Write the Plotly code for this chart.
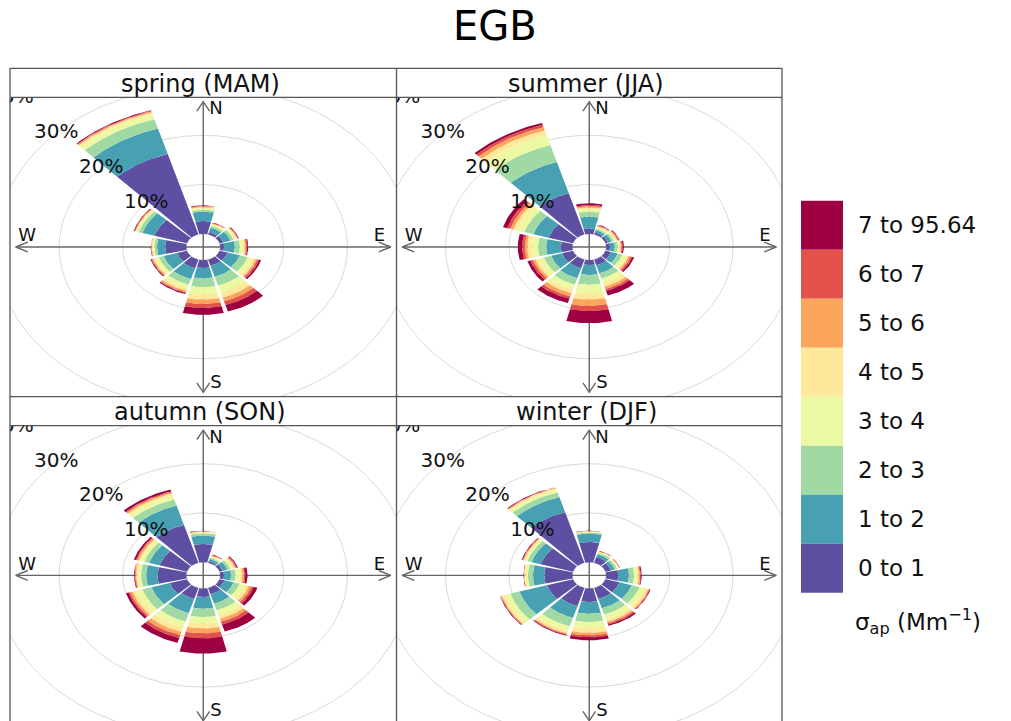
import numpy as np
import plotly.graph_objects as go

# Wind sectors (degrees clockwise from north), 30-degree bins
directions = [0, 30, 60, 90, 120, 150, 180, 210, 240, 270, 300, 330]

# sigma_ap classes (Mm-1) and their colours (reversed Spectral ramp)
bin_labels = ["0 to 1", "1 to 2", "2 to 3", "3 to 4", "4 to 5", "5 to 6", "6 to 7", "7 to 95.64"]
bin_colors = ["#5E4FA2", "#48A1B3", "#A1D9A4", "#EDF8A3", "#FEE99A", "#FCA55D", "#E2524A", "#9E0142"]

season_titles = ["spring (MAM)", "summer (JJA)", "autumn (SON)", "winter (DJF)"]

# Cumulative frequency (%) at the top of each sigma_ap class, one row per sector
spring = [
    [2.6, 4.5, 4.9, 5.2, 5.4, 5.55, 5.7, 5.8],
    [0.5, 1.4, 1.8, 2.1, 2.25, 2.35, 2.45, 2.5],
    [0.6, 1.8, 2.3, 2.7, 2.9, 3.0, 3.1, 3.2],
    [0.6, 2.3, 3.1, 3.6, 3.9, 4.1, 4.25, 4.4],
    [1.3, 3.3, 4.6, 5.4, 5.9, 6.2, 6.5, 6.8],
    [1.3, 3.6, 5.5, 6.8, 8.0, 8.8, 9.6, 11.0],
    [1.6, 3.7, 5.5, 7.0, 8.0, 8.9, 9.7, 11.1],
    [1.8, 4.1, 5.3, 6.1, 6.6, 6.9, 7.1, 7.3],
    [1.6, 3.8, 4.6, 5.2, 5.5, 5.7, 5.85, 6.0],
    [3.3, 4.6, 5.0, 5.25, 5.4, 5.5, 5.55, 5.6],
    [5.3, 7.3, 7.9, 8.3, 8.45, 8.55, 8.65, 8.75],
    [17.0, 22.4, 24.4, 25.4, 25.8, 26.0, 26.15, 26.3],
]
summer = [
    [1.1, 3.5, 4.5, 5.0, 5.35, 5.6, 5.85, 6.2],
    [0.4, 0.9, 1.2, 1.5, 1.7, 1.85, 2.0, 2.1],
    [0.4, 1.0, 1.4, 1.7, 1.9, 2.05, 2.2, 2.3],
    [0.6, 1.3, 1.8, 2.1, 2.3, 2.45, 2.6, 2.8],
    [0.9, 2.0, 2.8, 3.4, 3.8, 4.1, 4.4, 4.7],
    [1.2, 2.9, 4.0, 5.0, 5.7, 6.2, 6.6, 7.6],
    [1.0, 3.0, 5.0, 6.7, 8.0, 9.3, 10.3, 12.8],
    [1.8, 3.9, 5.3, 6.3, 7.1, 7.8, 8.3, 9.2],
    [1.8, 3.6, 4.8, 5.7, 6.2, 6.6, 7.0, 7.5],
    [1.8, 4.1, 5.4, 6.5, 7.1, 7.5, 7.9, 8.6],
    [4.0, 6.5, 8.0, 9.2, 9.8, 10.3, 10.8, 11.5],
    [8.7, 15.3, 18.9, 21.0, 22.0, 22.7, 23.2, 23.6],
]
autumn = [
    [3.7, 5.4, 5.85, 6.1, 6.2, 6.28, 6.34, 6.4],
    [0.3, 0.8, 1.1, 1.35, 1.5, 1.6, 1.7, 1.8],
    [0.5, 1.3, 1.8, 2.2, 2.5, 2.7, 2.85, 3.0],
    [0.6, 1.7, 2.4, 3.1, 3.5, 3.75, 3.95, 4.3],
    [0.8, 2.3, 3.3, 4.2, 4.8, 5.2, 5.6, 6.2],
    [1.3, 3.3, 4.7, 5.8, 6.5, 7.1, 7.7, 9.2],
    [1.7, 4.1, 5.8, 7.1, 8.1, 9.1, 10.1, 13.2],
    [2.3, 5.3, 7.1, 8.3, 9.3, 10.0, 10.6, 11.6],
    [2.8, 5.8, 7.3, 8.3, 8.9, 9.3, 9.6, 10.0],
    [4.5, 6.3, 7.1, 7.6, 7.85, 8.0, 8.1, 8.2],
    [4.5, 6.2, 7.0, 7.6, 7.9, 8.2, 8.4, 8.7],
    [8.0, 12.1, 13.4, 14.2, 14.6, 14.9, 15.1, 15.5],
]
winter = [
    [4.1, 5.8, 6.05, 6.2, 6.28, 6.33, 6.37, 6.4],
    [1.2, 1.8, 2.1, 2.3, 2.4, 2.45, 2.5, 2.55],
    [0.9, 1.5, 1.9, 2.15, 2.25, 2.3, 2.35, 2.4],
    [1.9, 3.6, 4.4, 4.9, 5.15, 5.35, 5.45, 5.6],
    [2.3, 4.3, 5.6, 6.5, 7.0, 7.2, 7.3, 7.4],
    [2.3, 4.3, 5.6, 6.6, 7.1, 7.4, 7.7, 8.0],
    [2.7, 5.1, 6.8, 8.1, 9.0, 9.5, 9.9, 10.5],
    [3.8, 6.3, 8.1, 9.1, 9.6, 9.8, 9.95, 10.1],
    [4.3, 8.8, 10.3, 11.3, 11.7, 11.85, 11.95, 12.05],
    [4.4, 6.2, 7.0, 7.4, 7.55, 7.62, 7.67, 7.7],
    [5.3, 6.8, 7.5, 7.9, 8.1, 8.25, 8.35, 8.45],
    [10.7, 13.9, 14.9, 15.5, 15.75, 15.9, 16.0, 16.1],
]
seasons = [spring, summer, autumn, winter]

# Grid rings every 10 %
ring_values = [0, 10, 20, 30, 40]

# ---- geometry / styling constants ----
W, H = 1011, 721
FONT = "DejaVu Sans"
HOLE = 2.68          # radius of the empty centre, in % units
LIM = 30.4           # half-range of each panel's axes
ARROW = 29.5         # extent of the compass arrows
HALF_SECTOR = 13.5   # half angular width of a wedge (deg)
LABEL_ANGLE = 315    # direction along which ring labels sit

COL_X = [10, 396.5, 782]          # panel column edges (px)
ROW_TOP = [68.3, 396.7]           # strip tops (px)
STRIP_H = 29.0
PANEL_H = 299.4


def fx(px):
    return px / W


def fy(py):
    return 1 - py / H


def wedge(wd, r0, r1, n=30):
    th = np.radians(np.linspace(wd - HALF_SECTOR, wd + HALF_SECTOR, n))
    xs = np.concatenate([r0 * np.sin(th), (r1 * np.sin(th))[::-1], [r0 * np.sin(th[0])]])
    ys = np.concatenate([r0 * np.cos(th), (r1 * np.cos(th))[::-1], [r0 * np.cos(th[0])]])
    return xs, ys


fig = go.Figure()
layout_axes = {}

for p, (table, title) in enumerate(zip(seasons, season_titles)):
    row, col = divmod(p, 2)
    xa = "x" if p == 0 else f"x{p + 1}"
    ya = "y" if p == 0 else f"y{p + 1}"
    xname = "xaxis" if p == 0 else f"xaxis{p + 1}"
    yname = "yaxis" if p == 0 else f"yaxis{p + 1}"

    plot_top = ROW_TOP[row] + STRIP_H
    plot_bot = plot_top + PANEL_H
    px_per_unit = PANEL_H / (2 * LIM)
    vis_bot = min(plot_bot, H)
    y_low = LIM - (vis_bot - plot_top) / px_per_unit

    layout_axes[xname] = dict(domain=[fx(COL_X[col]), fx(COL_X[col + 1])], range=[-LIM, LIM],
                              visible=False, anchor=ya, fixedrange=True)
    layout_axes[yname] = dict(domain=[fy(vis_bot), fy(plot_top)], range=[y_low, LIM],
                              visible=False, anchor=xa, fixedrange=True)

    # grid rings
    t = np.linspace(0, 2 * np.pi, 361)
    gx, gy = [], []
    for v in ring_values:
        r = v + HOLE
        gx += list(r * np.sin(t)) + [None]
        gy += list(r * np.cos(t)) + [None]
    fig.add_trace(go.Scatter(x=gx, y=gy, mode="lines", line=dict(color="#D9D9D9", width=1),
                             hoverinfo="skip", showlegend=False, xaxis=xa, yaxis=ya))

    # compass arrows (double headed)
    hl, hw = 1.9, 1.0
    ax_x = [-ARROW, ARROW, None,
            -ARROW + hl, -ARROW, -ARROW + hl, None,
            ARROW - hl, ARROW, ARROW - hl, None,
            0, 0, None,
            -hw, 0, hw, None,
            -hw, 0, hw]
    ax_y = [0, 0, None,
            hw, 0, -hw, None,
            hw, 0, -hw, None,
            -ARROW, ARROW, None,
            ARROW - hl, ARROW, ARROW - hl, None,
            -ARROW + hl, -ARROW, -ARROW + hl]
    fig.add_trace(go.Scatter(x=ax_x, y=ax_y, mode="lines", line=dict(color="#666666", width=1.4),
                             hoverinfo="skip", showlegend=False, xaxis=xa, yaxis=ya))

    # stacked wedges, one trace per class
    for b in range(len(bin_labels)):
        wx, wy = [], []
        for d, cum in zip(directions, table):
            lo = (cum[b - 1] if b > 0 else 0) + HOLE
            hi = cum[b] + HOLE
            if hi - lo <= 0:
                continue
            xs, ys = wedge(d, lo, hi)
            wx += list(xs) + [None]
            wy += list(ys) + [None]
        fig.add_trace(go.Scatter(x=wx, y=wy, mode="lines", fill="toself",
                                 fillcolor=bin_colors[b], line=dict(width=0, color=bin_colors[b]),
                                 hoverinfo="skip", showlegend=False, xaxis=xa, yaxis=ya))

    # compass letters
    fig.add_trace(go.Scatter(x=[2.0, 27.7, 2.0, -27.7], y=[27.9, 2.1, -27.7, 2.1],
                             text=["N", "E", "S", "W"], mode="text",
                             textfont=dict(family=FONT, size=18, color="#111"),
                             cliponaxis=False, hoverinfo="skip", showlegend=False,
                             xaxis=xa, yaxis=ya))

    # ring labels
    la = np.radians(LABEL_ANGLE)
    rl = [v for v in ring_values if v > 0]
    fig.add_trace(go.Scatter(x=[(v + HOLE) * np.sin(la) for v in rl],
                             y=[(v + HOLE) * np.cos(la) for v in rl],
                             text=[f"{v}%" for v in rl], mode="text",
                             textfont=dict(family=FONT, size=20, color="#111"),
                             cliponaxis=True, hoverinfo="skip", showlegend=False,
                             xaxis=xa, yaxis=ya))

shapes = []
annotations = []
BORDER = dict(color="#555555", width=1.3)

# panel frames and strips
for row in range(2):
    top = ROW_TOP[row]
    for yv in (top, top + STRIP_H):
        shapes.append(dict(type="line", xref="paper", yref="paper",
                           x0=fx(COL_X[0]), x1=fx(COL_X[2]), y0=fy(yv), y1=fy(yv), line=BORDER))
for xv in COL_X:
    shapes.append(dict(type="line", xref="paper", yref="paper",
                       x0=fx(xv), x1=fx(xv), y0=fy(ROW_TOP[0]), y1=fy(H + 5), line=BORDER))

for p, title in enumerate(season_titles):
    row, col = divmod(p, 2)
    annotations.append(dict(text=title, xref="paper", yref="paper",
                            x=fx((COL_X[col] + COL_X[col + 1]) / 2 - 3),
                            y=fy(ROW_TOP[row] + STRIP_H / 2 + 1),
                            showarrow=False, xanchor="center", yanchor="middle",
                            font=dict(family=FONT, size=24, color="#111")))

# title
annotations.append(dict(text="EGB", xref="paper", yref="paper", x=fx(494.5), y=fy(26),
                        showarrow=False, xanchor="center", yanchor="middle",
                        font=dict(family=FONT, size=40, color="#000")))

# colour key
KEY_X0, KEY_X1 = 801, 843
KEY_TOP, KEY_BOX = 200.7, 49.0
n_bins = len(bin_labels)
for i in range(n_bins):
    b = n_bins - 1 - i
    y0 = KEY_TOP + i * KEY_BOX
    shapes.append(dict(type="rect", xref="paper", yref="paper",
                       x0=fx(KEY_X0), x1=fx(KEY_X1), y0=fy(y0 + KEY_BOX), y1=fy(y0),
                       fillcolor=bin_colors[b], line=dict(width=0)))
    annotations.append(dict(text=bin_labels[b], xref="paper", yref="paper",
                            x=fx(856), y=fy(y0 + KEY_BOX / 2),
                            showarrow=False, xanchor="left", yanchor="middle",
                            font=dict(family=FONT, size=23, color="#111")))
annotations.append(dict(text="σ<sub>ap</sub> (Mm<sup>−1</sup>)", xref="paper", yref="paper",
                        x=fx(853), y=fy(621), showarrow=False, xanchor="left", yanchor="middle",
                        font=dict(family=FONT, size=23, color="#111")))

fig.update_layout(width=W, height=H, margin=dict(l=0, r=0, t=0, b=0),
                  paper_bgcolor="white", plot_bgcolor="white",
                  showlegend=False, shapes=shapes, annotations=annotations, **layout_axes)

fig.write_html("out.html")
